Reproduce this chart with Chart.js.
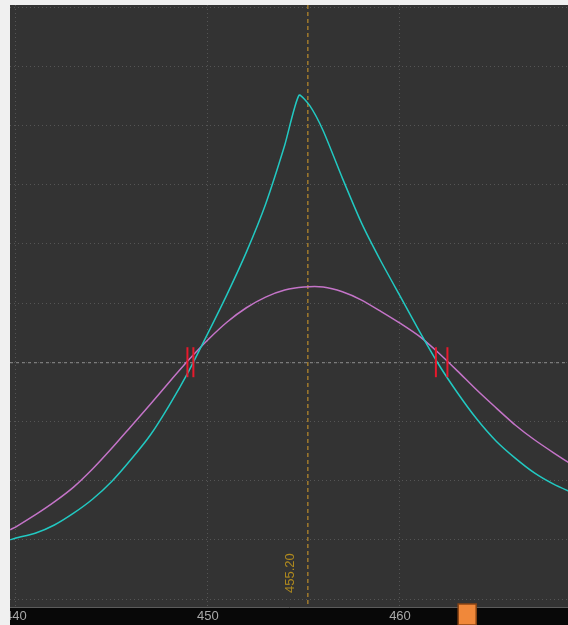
<!DOCTYPE html>
<html>
<head>
<meta charset="utf-8">
<script src="https://cdn.jsdelivr.net/npm/chart.js@4/dist/chart.umd.min.js"></script>
<style>
html, body { margin: 0; padding: 0; background: #f0f0f0; }
#wrap { width: 568px; height: 625px; }
</style>
</head>
<body>
<div id="wrap"><canvas id="spectrum" width="568" height="625"></canvas></div>
<script>
// wavelength axis
var xMin = 439.69;
var xMax = 468.75;
var xTicks = [440, 450, 460];
var yTicks = [0, 10, 20, 30, 40, 50, 60, 70, 80, 90, 100];

// cyan trace (sharp peak)
var cyanX = [439.7, 440, 441, 442, 443, 444, 445, 446, 447, 448, 449, 450, 451, 452, 453, 454, 454.74, 455.31,
  456, 457, 458, 459, 460, 461, 462, 463, 464, 465, 466, 467, 468, 469];
var cyanY = [10.0, 10.3, 11.1, 12.5, 14.5, 16.9, 19.9, 23.6, 27.7, 32.8, 38.5, 44.9, 51.5, 58.6, 66.7, 76.7, 85.1, 83.3,
  79.1, 71.1, 63.5, 57.1, 51.2, 45.3, 39.7, 34.8, 30.4, 26.7, 23.8, 21.3, 19.4, 17.9];

// magenta trace (broad peak)
var magentaX = [439.7, 440, 441, 442, 443, 444, 445, 446, 447, 448, 449, 450, 451, 452, 453, 454, 455,
  456, 457, 458, 459, 460, 461, 462, 463, 464, 465, 466, 467, 468, 469];
var magentaY = [11.7, 12.2, 14.2, 16.4, 18.9, 22.0, 25.5, 29.2, 32.9, 36.7, 40.4, 43.8, 46.8, 49.2, 51.0, 52.2, 52.7,
  52.7, 51.9, 50.5, 48.6, 46.6, 44.4, 41.6, 38.5, 35.3, 32.3, 29.4, 26.9, 24.7, 22.6];

// half-height level and its crossings
var levelValue = 40;
var crossX = [448.93, 449.24, 461.87, 462.47];

// cursor and slider
var cursorValue = 455.20;
var cursorLabel = "455.20";
var sliderValue = 463.5;

function toPoints(xs, ys) {
  return xs.map(function(x, i) { return { x: x, y: ys[i] }; });
}

var decor = {
  id: "decor",
  beforeDraw: function(chart) {
    var ctx = chart.ctx, a = chart.chartArea;
    ctx.save();
    ctx.fillStyle = "#333333";
    ctx.fillRect(a.left, a.top, a.right - a.left, a.bottom - a.top);
    ctx.fillStyle = "#080808";
    ctx.fillRect(a.left, a.bottom, a.right - a.left, chart.height - a.bottom);
    ctx.restore();
  },
  beforeDatasetsDraw: function(chart) {
    var ctx = chart.ctx, a = chart.chartArea;
    var yl = chart.scales.y.getPixelForValue(levelValue);
    var xc = chart.scales.x.getPixelForValue(cursorValue);
    ctx.save();
    ctx.lineWidth = 1;
    ctx.strokeStyle = "#8c8c8c";
    ctx.setLineDash([3, 3]);
    ctx.beginPath();
    ctx.moveTo(a.left, yl + 0.5);
    ctx.lineTo(a.right, yl + 0.5);
    ctx.stroke();
    ctx.lineWidth = 1.5;
    ctx.strokeStyle = "#a07a2c";
    ctx.setLineDash([4, 3]);
    ctx.beginPath();
    ctx.moveTo(xc, a.top);
    ctx.lineTo(xc, a.bottom);
    ctx.stroke();
    ctx.setLineDash([]);
    ctx.translate(xc - 17, a.bottom - 14);
    ctx.rotate(-Math.PI / 2);
    ctx.fillStyle = "#b08a1e";
    ctx.font = "13px 'Liberation Sans', Arial, sans-serif";
    ctx.textAlign = "left";
    ctx.textBaseline = "middle";
    ctx.fillText(cursorLabel, 0, 0);
    ctx.restore();
  },
  afterDraw: function(chart) {
    var ctx = chart.ctx, a = chart.chartArea;
    var xs = chart.scales.x.getPixelForValue(sliderValue);
    ctx.save();
    ctx.fillStyle = "#f0f0f0";
    ctx.fillRect(0, 0, a.left, chart.height);
    ctx.fillStyle = "#f0883a";
    ctx.strokeStyle = "#8a4414";
    ctx.lineWidth = 1.5;
    ctx.fillRect(xs - 9, a.bottom - 3, 18, chart.height - a.bottom + 3);
    ctx.strokeRect(xs - 9, a.bottom - 3, 18, chart.height - a.bottom + 3);
    ctx.restore();
  }
};

new Chart(document.getElementById("spectrum"), {
  type: "line",
  data: {
    datasets: [{
      label: "crossings",
      type: "scatter",
      data: crossX.map(function(x) { return { x: x, y: levelValue }; }),
      showLine: false,
      pointStyle: "line",
      pointRotation: 90,
      pointRadius: 15,
      pointHoverRadius: 15,
      borderColor: "#e8192c",
      pointBorderColor: "#e8192c",
      pointBorderWidth: 2,
      order: 0
    }, {
      label: "cyan",
      data: toPoints(cyanX, cyanY),
      borderColor: "#22c9c2",
      borderWidth: 1.5,
      pointRadius: 0,
      tension: 0.2,
      order: 1
    }, {
      label: "magenta",
      data: toPoints(magentaX, magentaY),
      borderColor: "#c474c8",
      borderWidth: 1.5,
      pointRadius: 0,
      tension: 0.2,
      order: 2
    }]
  },
  options: {
    responsive: false,
    animation: false,
    layout: { autoPadding: false, padding: { left: 10, top: 5, right: 0, bottom: 0 } },
    scales: {
      x: {
        type: "linear",
        min: xMin,
        max: xMax,
        afterBuildTicks: function(s) { s.ticks = xTicks.map(function(v) { return { value: v }; }); },
        afterFit: function(s) { s.height = 18; s.paddingLeft = 0; s.paddingRight = 0; },
        grid: { color: "#555555", drawTicks: false, lineWidth: 1 },
        border: { color: "#5c5c5c", width: 1, dash: [1, 3] },
        ticks: {
          color: "#a8a8a8",
          font: { family: "'Liberation Sans', Arial, sans-serif", size: 13 },
          padding: 2,
          maxRotation: 0,
          autoSkip: false
        }
      },
      y: {
        type: "linear",
        min: -1.35,
        max: 100.34,
        afterBuildTicks: function(s) { s.ticks = yTicks.map(function(v) { return { value: v }; }); },
        afterFit: function(s) { s.width = 0; s.paddingTop = 0; s.paddingBottom = 0; },
        grid: { color: "#555555", drawTicks: false, lineWidth: 1 },
        border: { display: false, dash: [1, 3] },
        ticks: { display: false }
      }
    },
    plugins: {
      legend: { display: false },
      tooltip: { enabled: false }
    }
  },
  plugins: [decor]
});
</script>
</body>
</html>
